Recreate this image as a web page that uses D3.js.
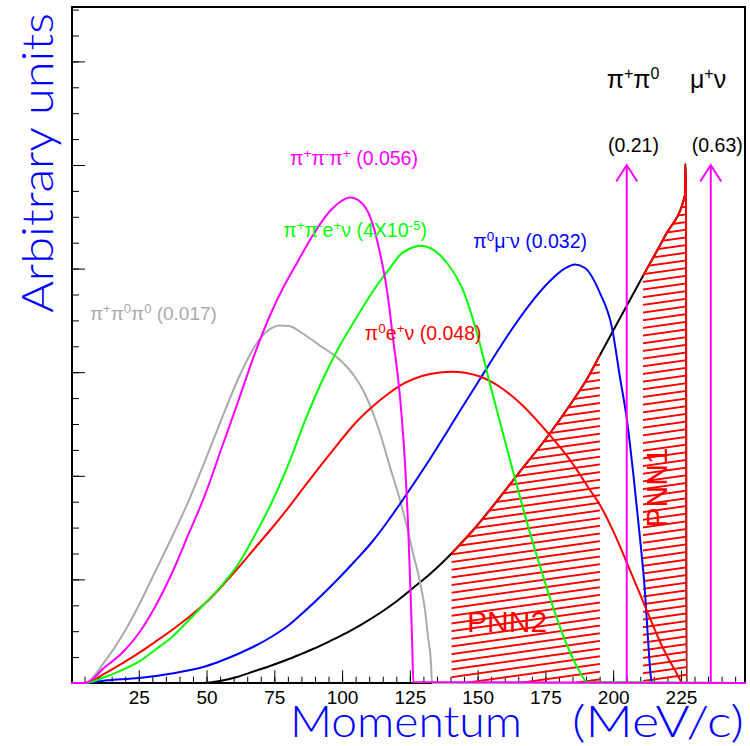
<!DOCTYPE html>
<html><head><meta charset="utf-8">
<script src="https://cdn.jsdelivr.net/npm/d3@7"></script>
<style>
body{margin:0;background:#fff}
svg{display:block}
text{font-family:"Liberation Sans",Arial,sans-serif}
</style>
</head><body>
<svg id="c" width="750" height="746"></svg>
<script>
// ---------------- data (momentum in MeV/c, arbitrary units) ----------------
const grayP = [0,5.16,12.54,18.81,25.08,30.98,37.26,43.53,49.43,55.70,61.97,67.87,71.56,74.14,76.72,80.41,86.31,92.59,98.86,101.81,104.76,107.71,111.40,113.98,117.67,121.36,123.94,126.15,128.74,130.58,131.69,132.79,133.16,249];
const grayV = [0,0,0.212,0.454,0.753,1.071,1.409,1.766,2.143,2.558,2.954,3.253,3.378,3.427,3.451,3.446,3.359,3.243,3.127,3.050,2.954,2.828,2.606,2.413,2.085,1.766,1.506,1.255,0.975,0.705,0.444,0.193,0,0];

const magP = [0,5.16,12.54,18.81,25.08,30.98,37.26,43.53,49.43,55.70,61.97,67.87,74.14,77.83,83.36,89.27,95.54,99.23,102.91,106.60,110.29,113.98,116.56,118.78,121.36,123.20,124.42,125.31,125.90,126.27,249];
const magV = [0,0,0.154,0.290,0.483,0.734,1.062,1.448,1.815,2.278,2.741,3.185,3.591,3.793,4.054,4.324,4.556,4.643,4.686,4.648,4.503,4.151,3.793,3.330,2.761,2.124,1.477,0.830,0.347,0.01,0];

const greenP = [0,5.16,12.54,18.81,25.08,30.98,37.26,43.53,49.43,55.70,61.97,67.87,74.14,80.41,86.31,92.59,98.86,104.76,109.55,113.98,117.67,121.36,125.05,128.74,132.42,138.69,144.60,149.76,154.56,158.25,161.93,165.62,169.31,173.00,176.69,180.38,184.06,187.75,190.34,249];
const greenV = [0,0,0.058,0.125,0.206,0.319,0.444,0.608,0.769,0.945,1.158,1.429,1.747,2.124,2.529,2.915,3.243,3.504,3.707,3.880,4.005,4.131,4.194,4.221,4.199,4.054,3.793,3.378,2.886,2.519,2.153,1.795,1.448,1.129,0.820,0.541,0.299,0.106,0.01,0];

const blueP = [0,5.16,12.54,25.08,37.26,49.43,55.70,61.97,67.87,74.14,80.41,86.31,92.59,98.86,104.76,111.03,116.93,123.09,132.42,138.69,144.60,150.87,157.14,161.93,169.31,176.69,182.22,185.91,189.60,195.13,199.48,202.51,205.02,207.42,209.89,211.73,212.91,213.80,214.31,249];
const blueV = [0,0,0.024,0.048,0.092,0.159,0.217,0.285,0.357,0.449,0.560,0.695,0.849,1.014,1.178,1.361,1.564,1.795,2.162,2.423,2.674,2.934,3.195,3.388,3.658,3.880,4.001,4.040,4.006,3.764,3.440,2.950,2.550,2.020,1.400,0.880,0.400,0.080,0,0];

const redP = [0,5.16,12.54,18.81,25.08,30.98,37.26,43.53,49.43,55.70,61.97,67.87,74.14,80.41,86.31,92.59,98.86,104.76,111.03,116.93,123.20,129.47,136.11,140.54,145.33,150.87,158.25,165.62,175.95,184.06,191.44,195.13,200.66,205.09,211.73,218.37,223.17,225.75,249];
const redV = [0,0,0.092,0.188,0.290,0.396,0.512,0.637,0.767,0.936,1.120,1.303,1.496,1.699,1.902,2.114,2.321,2.505,2.664,2.790,2.896,2.963,2.997,3.005,2.995,2.958,2.857,2.703,2.413,2.153,1.863,1.718,1.429,1.158,0.743,0.338,0.106,0,0];

const blackP = [0,48.69,54.96,61.23,67.87,73.40,78.94,84.47,89.27,95.54,101.81,107.71,113.98,120.25,126.15,132.42,140.54,149.02,157.14,164.88,175.95,184.06,190.34,195.13,199.93,210.99,219.11,226.49,226.60,226.86,227.05,249];
const blackV = [0,0,0.019,0.058,0.116,0.164,0.217,0.275,0.328,0.405,0.487,0.574,0.676,0.792,0.917,1.052,1.255,1.496,1.757,2.017,2.384,2.683,2.934,3.166,3.398,3.929,4.315,4.710,5.010,4.81,0,0];

const pnn2Range = [140.4, 195.1];
const pnn1Range = [211.0, 227.2];
const arrowP = [205, 236];
const arrowTop = 5.0;

const xMajorTicks = [25,50,75,100,125,150,175,200,225];
const xMinorTicks = d3.range(5, 250, 5);
const yMajorTicks = [1,2,3,4,5,6];
const yMinorTicks = d3.range(0.25, 6.6, 0.25);

// ---------------- setup ----------------
const svg = d3.select("#c");
const x = d3.scaleLinear().domain([0,249]).range([71,746]);
const y = d3.scaleLinear().domain([0,6.525]).range([683,7]);
const zip = (P,V) => P.map((p,i)=>[p,V[i]]);

const defs = svg.append("defs");
const pat = defs.append("pattern").attr("id","hatch").attr("patternUnits","userSpaceOnUse")
  .attr("width",40).attr("height",7.6).attr("patternTransform","rotate(-8)");
pat.append("line").attr("x1",-2).attr("x2",42).attr("y1",3.8).attr("y2",3.8)
  .attr("stroke","#ff0000").attr("stroke-width",1).attr("shape-rendering","crispEdges");

[["clipPNN2",pnn2Range],["clipPNN1",pnn1Range]].forEach(([id,r])=>{
  defs.append("clipPath").attr("id",id).append("rect")
    .attr("x",x(r[0])).attr("width",x(r[1])-x(r[0])).attr("y",0).attr("height",y(0)+1);
});

// ---------------- axes ----------------
function styleAxis(g){ g.select(".domain").remove(); g.selectAll("line").attr("stroke","#000").attr("stroke-width",1); }
svg.append("g").attr("transform",`translate(0,${y(0)})`)
  .call(d3.axisBottom(x).tickValues(xMinorTicks).tickSizeInner(-6.3).tickSizeOuter(0).tickFormat(""))
  .call(styleAxis);
const gxm = svg.append("g").attr("transform",`translate(0,${y(0)})`)
  .call(d3.axisBottom(x).tickValues(xMajorTicks).tickSizeInner(-12.7).tickSizeOuter(0).tickPadding(8).tickFormat(d3.format("d")))
  .call(styleAxis);
gxm.selectAll("text").attr("font-size",19).attr("fill","#000").attr("font-family","Liberation Sans, Arial, sans-serif");

svg.append("g").attr("transform",`translate(${x(0)+1},0)`)
  .call(d3.axisLeft(y).tickValues(yMinorTicks).tickSizeInner(-7).tickSizeOuter(0).tickFormat(""))
  .call(styleAxis);
svg.append("g").attr("transform",`translate(${x(0)+1},0)`)
  .call(d3.axisLeft(y).tickValues(yMajorTicks).tickSizeInner(-13).tickSizeOuter(0).tickFormat(""))
  .call(styleAxis);

svg.append("rect").attr("x",72).attr("y",7).attr("width",673).attr("height",676)
  .attr("fill","none").attr("stroke","#000").attr("stroke-width",2);

// ---------------- curves ----------------
const line = d3.line().x(d=>x(d[0])).y(d=>y(d[1])).curve(d3.curveMonotoneX);
const area = d3.area().x(d=>x(d[0])).y0(y(0)).y1(d=>y(d[1])).curve(d3.curveMonotoneX);
const blackData = zip(blackP,blackV);

function curve(data,color){
  svg.append("path").attr("d",line(data)).attr("fill","none").attr("stroke",color)
    .attr("stroke-width",2).attr("stroke-linejoin","round");
}
curve(blackData,"#000000");
["clipPNN2","clipPNN1"].forEach(id=>{
  svg.append("path").attr("d",area(blackData)).attr("fill","url(#hatch)").attr("clip-path",`url(#${id})`);
  svg.append("path").attr("d",line(blackData)).attr("fill","none").attr("stroke","#ff0000")
    .attr("stroke-width",2).attr("clip-path",`url(#${id})`);
});
curve(zip(grayP,grayV),"#aaaaaa");
curve(zip(blueP,blueV),"#0000ff");
curve(zip(redP,redV),"#ff0000");
curve(zip(greenP,greenV),"#00ff00");
curve(zip(magP,magV),"#ff00ff");

// arrows
arrowP.forEach(p=>{
  const g = svg.append("g").attr("stroke","#ff00ff").attr("stroke-width",2).attr("fill","none");
  g.append("line").attr("x1",x(p)).attr("x2",x(p)).attr("y1",y(0)).attr("y2",y(arrowTop));
  g.append("polyline").attr("points",`${x(p)-10.5},${y(arrowTop)+16.5} ${x(p)},${y(arrowTop)} ${x(p)+10.5},${y(arrowTop)+16.5}`);
});

// ---------------- text ----------------
function rich(px,py,str,color,size,supSize,raise){
  const t = svg.append("text").attr("x",px).attr("y",py).attr("fill",color).attr("font-size",size);
  const parts = str.split(/(\^\{[^}]*\})/).filter(s=>s.length);
  let up = false;
  parts.forEach(s=>{
    if(s.startsWith("^{")){
      t.append("tspan").attr("font-size",supSize).attr("dy",-raise).text(s.slice(2,-1));
      up = true;
    } else {
      const ts = t.append("tspan").text(s);
      if(up){ ts.attr("dy",raise); up=false; }
    }
  });
  return t;
}
rich(x(7.0),   y(3.504),"π^{+}π^{0}π^{0} (0.017)","#aaaaaa",19,13,7);
rich(x(80.8),  y(5.0),  "π^{+}π^{-}π^{+} (0.056)","#ff00ff",19.5,13.5,7);
rich(x(78.3),  y(4.305),"π^{+}π^{-}e^{+}ν (4X10^{-5})","#00ff00",19.5,13.5,7);
rich(x(148.4), y(4.2),  "π^{0}μ^{-}ν (0.032)","#0000ff",19.5,13.5,7);
rich(x(108.4), y(3.31), "π^{0}e^{+}ν (0.048)","#ff0000",19.5,13.5,7);
rich(x(197.6), y(5.743),"π^{+}π^{0}","#000",25,16,9);
rich(x(228.3), y(5.743),"μ^{+}ν","#000",25,16,9);
rich(x(198.1), y(5.125),"(0.21)","#000",19.5,13,7);
rich(x(229.0), y(5.125),"(0.63)","#000",19.5,13,7);

svg.append("text").attr("x",x(146.1)).attr("y",y(0.495)).attr("fill","#ff0000")
  .attr("font-size",30).text("PNN2");
svg.append("text").attr("transform",`translate(${x(219.8)},${y(1.887)}) rotate(-90)`)
  .attr("text-anchor","middle").attr("fill","#ff0000").attr("font-size",30).text("PNN1");

// axis titles
const titleFont = "Lato, 'Liberation Sans', sans-serif";
svg.append("text").attr("transform","translate(53,163) rotate(-90)").attr("text-anchor","middle")
  .attr("fill","#0000ff").attr("font-size",44).style("font-family",titleFont)
  .attr("font-weight",300).attr("textLength",300).attr("lengthAdjust","spacingAndGlyphs").text("Arbitrary units");
svg.append("text").attr("x",290).attr("y",736.5).attr("fill","#0000ff").attr("font-size",44)
  .style("font-family",titleFont).attr("font-weight",300)
  .attr("textLength",232).attr("lengthAdjust","spacingAndGlyphs").text("Momentum");
svg.append("text").attr("x",572).attr("y",736.5).attr("fill","#0000ff").attr("font-size",44)
  .style("font-family",titleFont).attr("font-weight",300)
  .attr("textLength",172).attr("lengthAdjust","spacingAndGlyphs").text("(MeV/c)");
</script>
</body></html>
